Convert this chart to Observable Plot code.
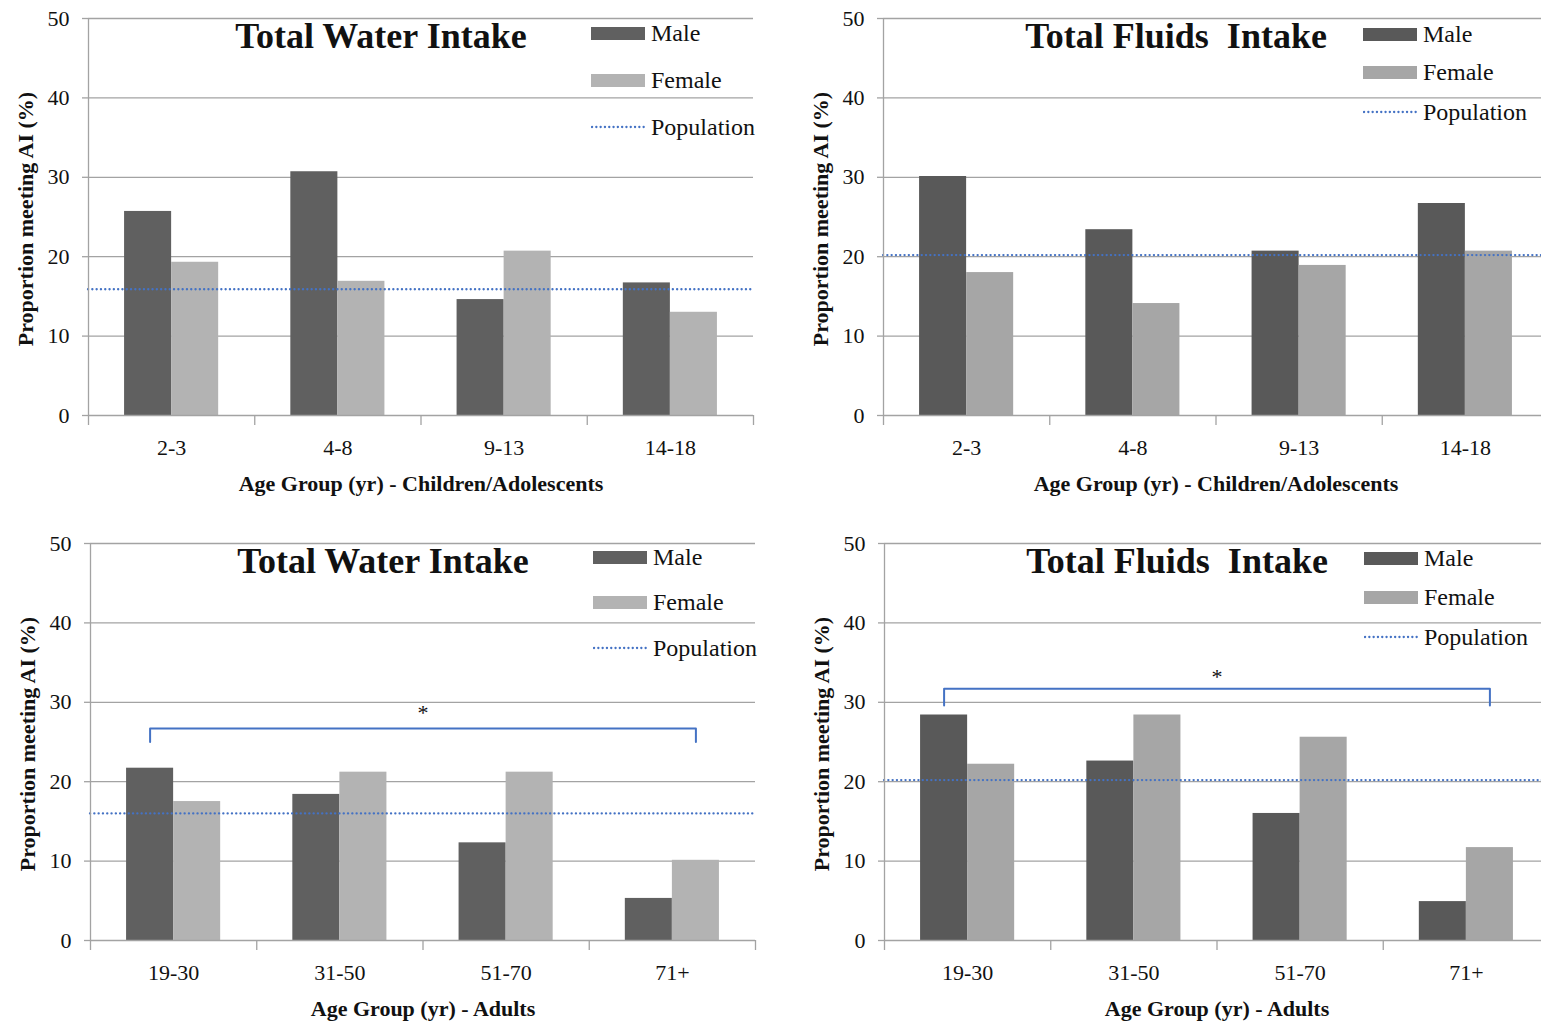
<!DOCTYPE html>
<html><head><meta charset="utf-8">
<script src="https://cdn.jsdelivr.net/npm/d3@7"></script>
<script src="https://cdn.jsdelivr.net/npm/@observablehq/plot@0.6"></script>
<style>
html,body{margin:0;padding:0;background:#fff;overflow:hidden;}
#root{position:relative;width:1541px;height:1024px;overflow:hidden;font-family:"Liberation Serif",serif;}
.panel{position:absolute;width:760px;}
.panel svg{max-width:none !important;}
.panel svg text{white-space:pre;}
.leg{position:absolute;display:flex;align-items:center;height:26px;font-family:"Liberation Serif",serif;font-size:24px;color:#111;white-space:nowrap;}
.sw{width:54px;height:13px;margin-right:6px;}
</style>
</head><body><div id="root"></div>
<script>
// ---------- data ----------
const childGroups = ["2-3", "4-8", "9-13", "14-18"];
const adultGroups = ["19-30", "31-50", "51-70", "71+"];
const yTicks = [0, 10, 20, 30, 40, 50];

const waterChildMale   = [25.7, 30.7, 14.6, 16.7];
const waterChildFemale = [19.3, 16.9, 20.7, 13.0];
const waterChildPop    = 15.9;

const fluidsChildMale   = [30.1, 23.4, 20.7, 26.7];
const fluidsChildFemale = [18.0, 14.1, 18.9, 20.7];
const fluidsChildPop    = 20.2;

const waterAdultMale   = [21.7, 18.4, 12.3, 5.3];
const waterAdultFemale = [17.5, 21.2, 21.2, 10.1];
const waterAdultPop    = 16.0;

const fluidsAdultMale   = [28.4, 22.6, 16.0, 4.9];
const fluidsAdultFemale = [22.2, 28.4, 25.6, 11.7];
const fluidsAdultPop    = 20.2;

// significance brackets (value units): top of bracket, foot of bracket, asterisk
const waterAdultBracket  = {top: 26.7, foot: 25.0, star: 28.7};
const fluidsAdultBracket = {top: 31.7, foot: 29.6, star: 33.2};

const seriesNames = ["Male", "Female", "Population"];
const yLabel = "Proportion meeting AI (%)";

// ---------- drawing ----------
const GRID = "#a3a3a3";
const BLUE = "#4472c4";
const TXT = "#111";
const BAR = 0.283, START = 0.217;

const root = document.getElementById("root");

function panel(o) {
  const rows = o.groups.flatMap((g, i) => [
    {group: g, i, sex: "Male", value: o.male[i]},
    {group: g, i, sex: "Female", value: o.female[i]}
  ]);
  const marks = [
    Plot.gridY(yTicks.slice(1), {stroke: GRID, strokeOpacity: 1, strokeWidth: 1.3}),
    Plot.rectY(rows, {
      x1: d => d.i + START + (d.sex === "Female" ? BAR : 0),
      x2: d => d.i + START + (d.sex === "Female" ? 2 * BAR : BAR),
      y1: 0, y2: "value",
      fill: d => d.sex === "Male" ? o.maleColor : o.femaleColor
    }),
    Plot.ruleY([o.pop], {stroke: BLUE, strokeWidth: 2.3, strokeDasharray: "0.1 4.2", strokeLinecap: "round"}),
    Plot.ruleY([0], {stroke: GRID, strokeWidth: 1.3}),
    Plot.ruleX([0], {stroke: GRID, strokeWidth: 1.3}),
    Plot.axisY({ticks: yTicks, tickSize: 6, tickPadding: 13, fontSize: 22, stroke: GRID, strokeWidth: 1.3, fill: TXT, label: null}),
    Plot.axisX({ticks: [0, 1, 2, 3, 4], tickSize: 10, tickFormat: () => "", stroke: GRID, strokeWidth: 1.3, label: null}),
    Plot.text(o.groups, {x: (d, i) => i + 0.5, y: 0, dy: 32, fontSize: 22, fill: TXT}),
    Plot.text([o.xLabel], {frameAnchor: "bottom", lineAnchor: "middle", dy: 68, fontSize: 22, fontWeight: "bold", fill: TXT}),
    Plot.text([yLabel], {frameAnchor: "left", textAnchor: "middle", lineAnchor: "middle", dx: -63, dy: 2, rotate: -90, fontSize: 22, fontWeight: "bold", fill: TXT}),
    Plot.text([o.title], {frameAnchor: "top", lineAnchor: "middle", dx: -40, dy: 18, fontSize: 36, fontWeight: "bold", fill: TXT})
  ];
  if (o.bracket) {
    const b = o.bracket;
    const x1 = 0 + START + BAR / 2;
    const x2 = (o.groups.length - 1) + START + 1.5 * BAR;
    const pts = [[x1, b.foot], [x1, b.top], [x2, b.top], [x2, b.foot]];
    marks.push(Plot.line(pts, {x: d => d[0], y: d => d[1], stroke: BLUE, strokeWidth: 2, strokeLinejoin: "round"}));
    marks.push(Plot.text(["*"], {x: (x1 + x2) / 2, y: b.star, fontSize: 22, fill: TXT}));
  }
  const chart = Plot.plot({
    width: 760, height: 505,
    marginLeft: 88, marginRight: 7, marginTop: 18, marginBottom: 90,
    style: {fontFamily: "'Liberation Serif', serif", background: "transparent", overflow: "visible", maxWidth: "none"},
    x: {domain: [0, 4]},
    y: {domain: [0, 50]},
    marks
  });
  const div = document.createElement("div");
  div.className = "panel";
  div.style.left = o.left + "px";
  div.style.top = o.top + "px";
  div.appendChild(chart);
  root.appendChild(div);

  // legend
  const cols = [o.maleColor, o.femaleColor];
  o.legendY.forEach((y, k) => {
    const item = document.createElement("div");
    item.className = "leg";
    item.style.left = o.legendX + "px";
    item.style.top = (y - 13) + "px";
    if (k < 2) {
      const sw = document.createElement("div");
      sw.className = "sw";
      sw.style.background = cols[k];
      item.appendChild(sw);
    } else {
      const s = document.createElementNS("http://www.w3.org/2000/svg", "svg");
      s.setAttribute("width", 60); s.setAttribute("height", 6);
      const l = document.createElementNS("http://www.w3.org/2000/svg", "line");
      l.setAttribute("x1", 1); l.setAttribute("x2", 53); l.setAttribute("y1", 3); l.setAttribute("y2", 3);
      l.setAttribute("stroke", BLUE); l.setAttribute("stroke-width", 2.3);
      l.setAttribute("stroke-dasharray", "0.1 4.2"); l.setAttribute("stroke-linecap", "round");
      s.appendChild(l);
      item.appendChild(s);
    }
    const t = document.createElement("span");
    t.textContent = seriesNames[k];
    item.appendChild(t);
    root.appendChild(item);
  });
}

panel({groups: childGroups, male: waterChildMale, female: waterChildFemale, pop: waterChildPop,
  title: "Total Water Intake", xLabel: "Age Group (yr) - Children/Adolescents",
  maleColor: "#606060", femaleColor: "#b3b3b3", left: 0, top: 0, legendX: 591, legendY: [33, 80, 127]});
panel({groups: childGroups, male: fluidsChildMale, female: fluidsChildFemale, pop: fluidsChildPop,
  title: "Total Fluids  Intake", xLabel: "Age Group (yr) - Children/Adolescents",
  maleColor: "#595959", femaleColor: "#a6a6a6", left: 795, top: 0, legendX: 1363, legendY: [34, 72, 112]});
panel({groups: adultGroups, male: waterAdultMale, female: waterAdultFemale, pop: waterAdultPop,
  title: "Total Water Intake", xLabel: "Age Group (yr) - Adults", bracket: waterAdultBracket,
  maleColor: "#606060", femaleColor: "#b3b3b3", left: 2, top: 525, legendX: 593, legendY: [557, 602, 648]});
panel({groups: adultGroups, male: fluidsAdultMale, female: fluidsAdultFemale, pop: fluidsAdultPop,
  title: "Total Fluids  Intake", xLabel: "Age Group (yr) - Adults", bracket: fluidsAdultBracket,
  maleColor: "#595959", femaleColor: "#a6a6a6", left: 796, top: 525, legendX: 1364, legendY: [558, 597, 637]});
</script>
</body></html>
